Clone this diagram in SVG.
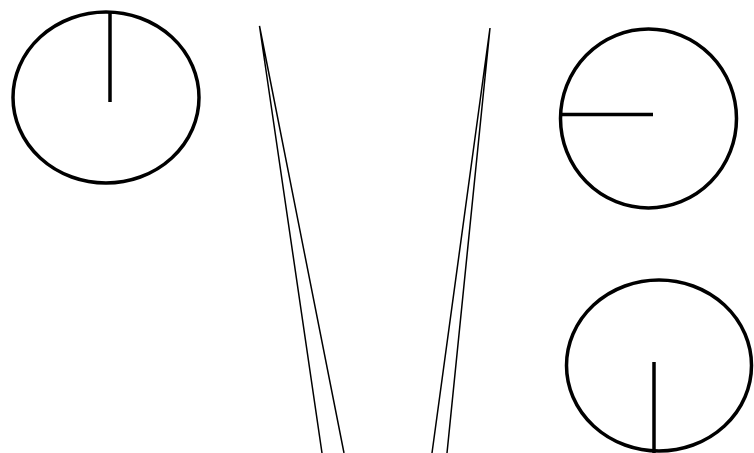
<svg xmlns="http://www.w3.org/2000/svg" width="754" height="453" viewBox="0 0 754 453">
<style>
.c{fill:none;stroke:#000;stroke-width:3.5}
.r{stroke:#000;stroke-width:3.5;stroke-linecap:butt}
.w{fill:none;stroke:#000;stroke-width:1.5}
</style>
<rect width="754" height="453" fill="#fff"/>
<g id="dial1"><ellipse class="c" cx="106" cy="97.5" rx="93" ry="85.5"/><line class="r" x1="110" y1="12" x2="110" y2="102"/></g>
<g id="dial2"><ellipse class="c" cx="648.5" cy="118.5" rx="88" ry="89.5"/><line class="r" x1="561" y1="114.5" x2="653" y2="114.5"/></g>
<g id="dial3"><ellipse class="c" cx="659" cy="365.5" rx="92.5" ry="85.5"/><line class="r" x1="654" y1="362" x2="654" y2="453"/></g>
<g id="connectors">
<path class="w" d="M322,453 L259.5,26 L344,453"/>
<path class="w" d="M432,453 L490,28 L447,453"/>
</g>
</svg>
